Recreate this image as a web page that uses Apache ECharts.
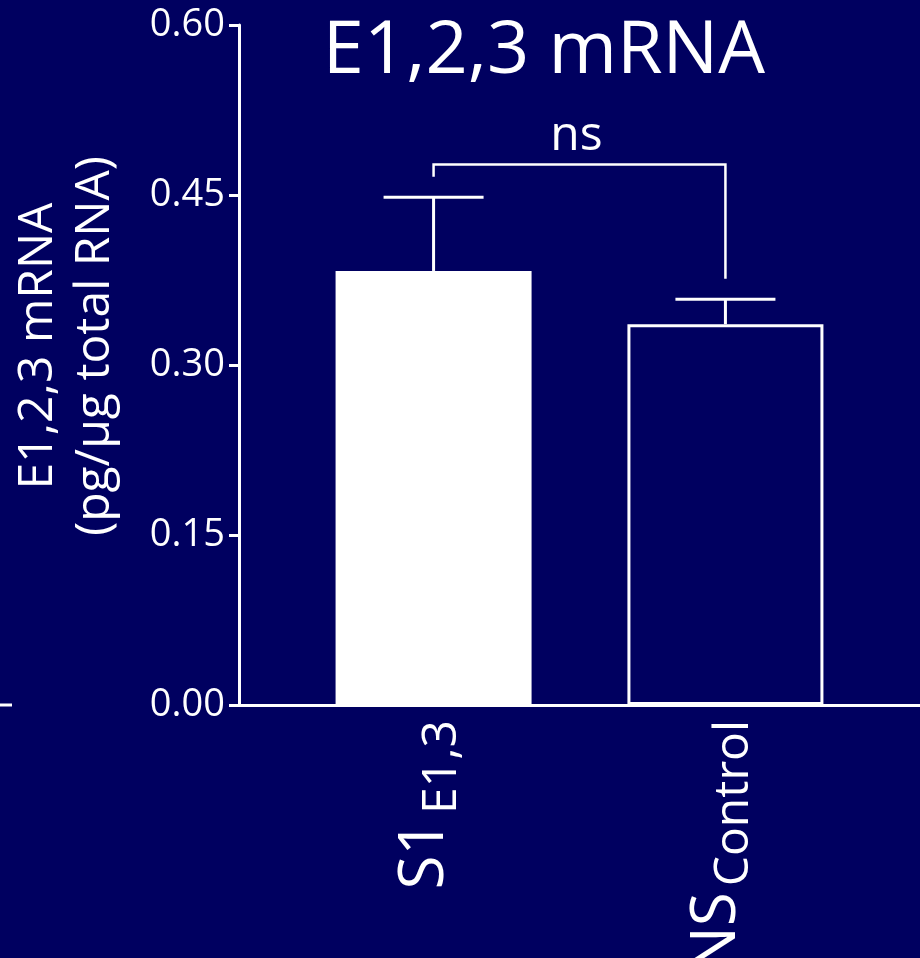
<!DOCTYPE html>
<html>
<head>
<meta charset="utf-8">
<script src="https://cdn.jsdelivr.net/npm/echarts@6/dist/echarts.min.js"></script>
<style>
  html, body { margin: 0; padding: 0; background: #000060; }
  #chart { width: 920px; height: 958px; }
</style>
</head>
<body>
<div id="chart"></div>
<script>
// data
var groups = ["S1", "NS"];
var groupSubs = ["E1,3", "Control"];
var groupX = [2, 5];               // place of each group on the x value axis
var means = [0.383, 0.336];
var upperErr = [0.448, 0.358];
var yTicks = [0, 0.15, 0.3, 0.45, 0.6];
var bracketY = [0.477, 0.466, 0.376]; // top, left leg end, right leg end
var bracketLabel = "ns";

var bg = "#000060";
var font = "Open Sans";

var chart = echarts.init(document.getElementById("chart"));

var option = {
  backgroundColor: bg,
  animation: false,
  textStyle: { fontFamily: font, color: "#fff" },
  grid: { left: 239, top: 25, bottom: 253, width: 681, containLabel: false, outerBoundsMode: "none" },
  graphic: [
    {
      type: "text",
      x: 544,
      y: 52,
      style: {
        text: "E1,2,3 mRNA",
        fontSize: 74,
        fontFamily: font,
        fill: "#fff",
        textAlign: "center",
        textVerticalAlign: "middle"
      }
    },
    {
      type: "text",
      x: 67,
      y: 346,
      rotation: Math.PI / 2,
      style: {
        text: "E1,2,3 mRNA\n(pg/µg total RNA)",
        fontSize: 48,
        lineHeight: 57,
        fontFamily: font,
        fill: "#fff",
        textAlign: "center",
        textVerticalAlign: "middle"
      }
    },
    {
      // stray axis piece from the neighbouring panel
      type: "line",
      shape: { x1: 0, y1: 705, x2: 12, y2: 705 },
      style: { stroke: "#fff", lineWidth: 3 }
    }
  ],
  xAxis: {
    type: "value",
    min: 0,
    max: 7,
    interval: 1,
    splitLine: { show: false },
    axisTick: { show: false },
    axisLine: { lineStyle: { color: "#fff", width: 3 } },
    axisLabel: {
      rotate: 90,
      margin: 15,
      color: "#fff",
      formatter: function (v) {
        var i = groupX.indexOf(v);
        if (i < 0) return "";
        return "{m|" + groups[i] + "}{s|" + groupSubs[i] + "}";
      },
      rich: {
        m: { fontSize: 62, fontFamily: font, color: "#fff", lineHeight: 66, verticalAlign: "bottom", padding: [0, 0, 10, 0] },
        s: { fontSize: 48, fontFamily: font, color: "#fff", lineHeight: 66, verticalAlign: "bottom", padding: [0, 0, 0, 6] }
      }
    }
  },
  yAxis: {
    type: "value",
    min: 0,
    max: 0.6,
    interval: 0.15,
    splitLine: { show: false },
    axisLine: { show: true, lineStyle: { color: "#fff", width: 3 } },
    axisTick: { show: true, length: 10, lineStyle: { color: "#fff", width: 3 } },
    axisLabel: {
      margin: 14,
      fontSize: 38,
      fontFamily: font,
      color: "#fff",
      formatter: function (v) { return v.toFixed(2); }
    }
  },
  series: [
    {
      type: "bar",
      barWidth: 196,
      data: groupX.map(function (x, i) {
        return {
          value: [x, means[i]],
          itemStyle: i === 0
            ? { color: "#fff" }
            : { color: bg, borderColor: "#fff", borderWidth: 3 }
        };
      })
    },
    {
      type: "custom",
      renderItem: function (params, api) {
        var base = api.coord([api.value(0), api.value(1)]);
        var top = api.coord([api.value(0), api.value(2)]);
        var style = { stroke: "#fff", lineWidth: 3 };
        return {
          type: "group",
          children: [
            { type: "line", shape: { x1: base[0], y1: base[1], x2: top[0], y2: top[1] }, style: style },
            { type: "line", shape: { x1: top[0] - 50, y1: top[1], x2: top[0] + 50, y2: top[1] }, style: style }
          ]
        };
      },
      data: groupX.map(function (x, i) { return [x, means[i], upperErr[i]]; })
    },
    {
      type: "custom",
      renderItem: function (params, api) {
        var a = api.coord([api.value(0), api.value(2)]);
        var b = api.coord([api.value(1), api.value(2)]);
        var aEnd = api.coord([api.value(0), api.value(3)]);
        var bEnd = api.coord([api.value(1), api.value(4)]);
        var style = { stroke: "#fff", lineWidth: 2.5, fill: null };
        return {
          type: "group",
          children: [
            { type: "polyline", shape: { points: [[aEnd[0], aEnd[1]], [a[0], a[1]], [b[0], b[1]], [bEnd[0], bEnd[1]]] }, style: style },
            {
              type: "text",
              x: (a[0] + b[0]) / 2 - 3,
              y: a[1] - 4,
              style: { text: bracketLabel, fontSize: 48, fontFamily: font, fill: "#fff", textAlign: "center", textVerticalAlign: "bottom" }
            }
          ]
        };
      },
      data: [[groupX[0], groupX[1], bracketY[0], bracketY[1], bracketY[2]]]
    }
  ]
};

chart.setOption(option);
</script>
</body>
</html>
